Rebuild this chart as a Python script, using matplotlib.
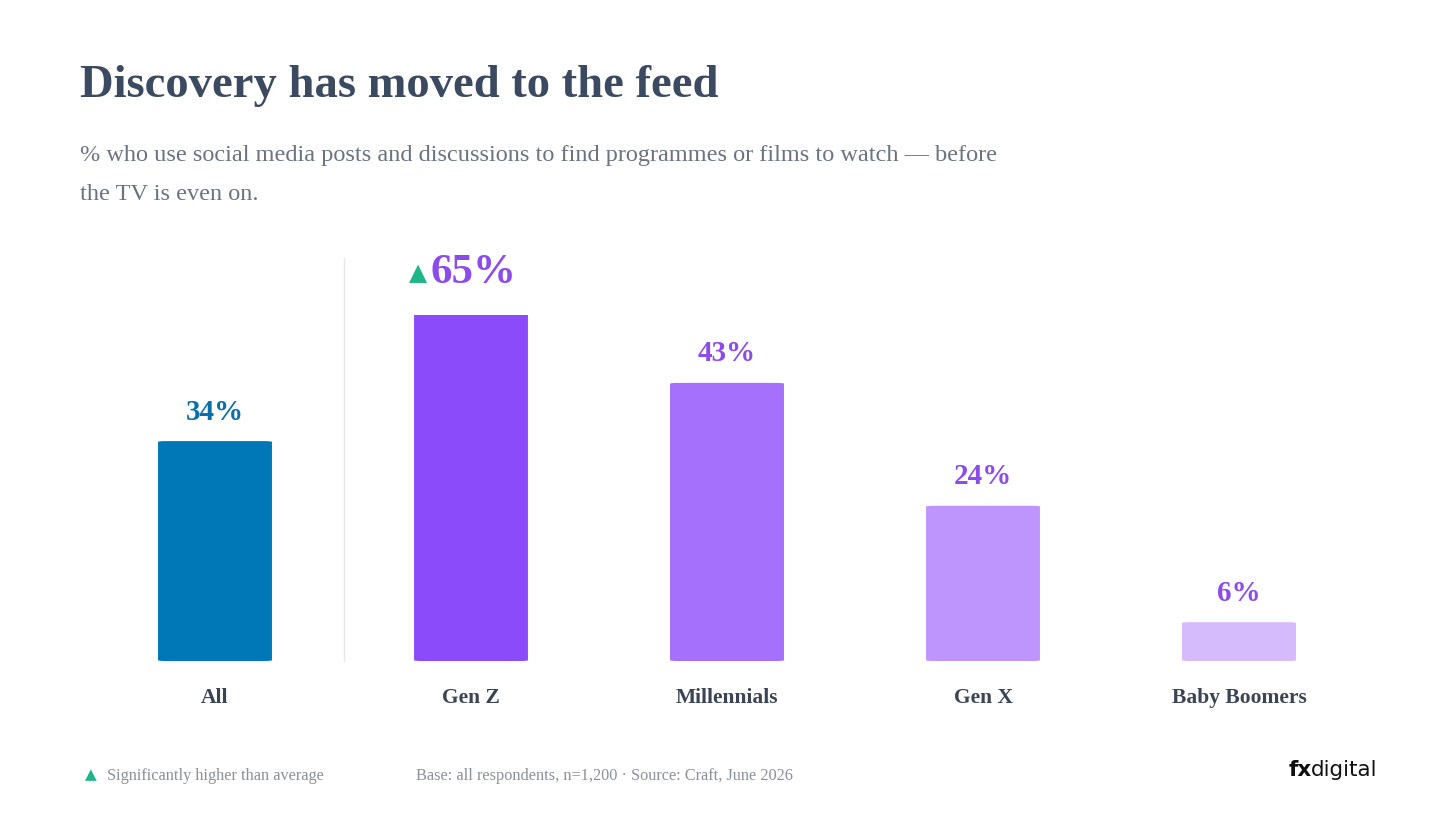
import matplotlib
matplotlib.use("Agg")
import matplotlib.pyplot as plt
from matplotlib.patches import FancyBboxPatch

categories = ["All", "Gen Z", "Millennials", "Gen X", "Baby Boomers"]
values = [34, 65, 43, 24, 6]
labels = ["34%", "65%", "43%", "24%", "6%"]
colors = ["#0077B6", "#8C4BFB", "#A470FC", "#BD95FD", "#D5BAFC"]
label_colors = ["#0A6FA8", "#8C4BEB", "#8C4BEB", "#8C4BEB", "#8C4BEB"]

serif = ["Liberation Serif", "DejaVu Serif"]
fig = plt.figure(figsize=(14.56, 8.17), dpi=100)
ax = fig.add_axes([87/1456, 156/817, 1280/1456, 346/817])
ymax = 53.5
ax.set_xlim(-0.5, 4.5)
ax.set_ylim(0, ymax)
ax.axis("off")
w = 0.445
for i, (v, c) in enumerate(zip(values, colors)):
    p = FancyBboxPatch((i - w/2, 0), w, v, boxstyle="round,pad=0,rounding_size=0.03",
                       mutation_aspect=6.5*1280/5/346*0.85, fc=c, ec="none", clip_on=True)
    ax.add_patch(p)
    big = v > ymax
    ty = min(v, ymax) + (4.5 if not big else 6.5)
    ax.text(i + (0.01 if big else 0), ty, labels[i], ha="center", va="center", family=serif,
            weight="bold", fontsize=31 if big else 21, color=label_colors[i], clip_on=False)
    ax.text(i, -5.7, categories[i], ha="center", va="center", family=serif, weight="bold",
            fontsize=15.5, color="#3A4454", clip_on=False)
fig.text(418/1456, 1 - 273/817, "▲", ha="center", va="center", fontsize=17, color="#1DB589",
         family="DejaVu Sans")
fig.add_artist(plt.Line2D([344/1456]*2, [1-258/817, 1-661/817], color="#E6E6E6", lw=1))

fig.text(80/1456, 1 - 86/817, "Discovery has moved to the feed", family=serif, weight="bold",
         fontsize=33.6, color="#3C4A61", va="center")
fig.text(80/1456, 1 - 156/817, "% who use social media posts and discussions to find programmes or films to watch — before",
         family=serif, fontsize=17.5, color="#6B7280", va="center")
fig.text(80/1456, 1 - 195/817, "the TV is even on.", family=serif, fontsize=17.5, color="#6B7280", va="center")

fig.text(91/1456, 1 - 775/817, "▲", ha="center", va="center", fontsize=11, color="#1DB589", family="DejaVu Sans")
fig.text(107/1456, 1 - 776/817, "Significantly higher than average", family=serif, fontsize=11.7,
         color="#8A8F98", va="center")
fig.text(416/1456, 1 - 776/817, "Base: all respondents, n=1,200 · Source: Craft, June 2026", family=serif,
         fontsize=11.7, color="#8A8F98", va="center")
fig.text(1289/1456, 1 - 770/817, "fx", family="DejaVu Sans", weight="bold", fontsize=15.5, color="#111111", va="center")
fig.text(1311/1456, 1 - 770/817, "digital", family="DejaVu Sans", fontsize=15.5, color="#111111", va="center")
fig.savefig("out.png", dpi=100)
